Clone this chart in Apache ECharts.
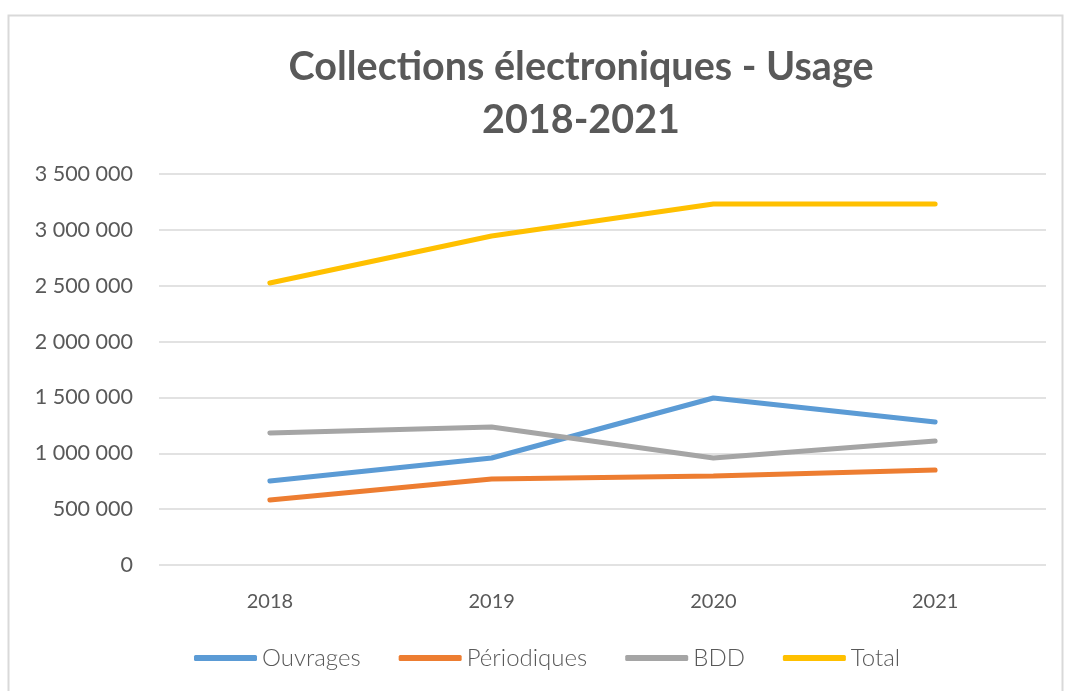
<!DOCTYPE html>
<html><head><meta charset="utf-8">
<script src="https://cdn.jsdelivr.net/npm/echarts@6/dist/echarts.min.js"></script>
<style>html,body{margin:0;padding:0;background:#fff}#c{width:1065px;height:691px}</style>
</head><body><div id="c"></div>
<script>
const categories = ['2018', '2019', '2020', '2021'];
const ouvrages = [752000, 958000, 1495000, 1280000];
const periodiques = [582000, 770000, 797000, 850000];
const bdd = [1182000, 1235000, 958000, 1110000];
const total = [2524000, 2945000, 3231000, 3231000];
const seriesNames = ['Ouvrages', 'Périodiques', 'BDD', 'Total'];
const colors = ['#5B9BD5', '#ED7D31', '#A5A5A5', '#FFC000'];

const fmt = v => String(v).replace(/\B(?=(\d{3})+(?!\d))/g, ' ');
const chart = echarts.init(document.getElementById('c'));
const data = [ouvrages, periodiques, bdd, total];
chart.setOption({
  animation: false,
  textStyle: { fontFamily: 'Lato' },
  graphic: [{ type: 'rect', shape: { x: 8.5, y: 15.5, width: 1054, height: 690 }, style: { fill: 'none', stroke: '#D9D9D9', lineWidth: 2 } }],
  title: {
    text: 'Collections électroniques - Usage\n2018-2021',
    left: 576, top: 36, textAlign: 'center',
    textStyle: { fontFamily: 'Lato', fontWeight: 'bold', fontSize: 39.5, color: '#595959', lineHeight: 53 }
  },
  legend: {
    bottom: 21, left: 194, padding: 0,
    itemWidth: 63, itemHeight: 6, itemGap: 38,
    icon: 'roundRect',
    textStyle: { fontSize: 24, color: '#595959', fontFamily: 'Lato', fontWeight: 300 },
    data: seriesNames
  },
  grid: { left: 159, right: 19, top: 174, bottom: 126 },
  xAxis: {
    type: 'category', data: categories, boundaryGap: true,
    axisLine: { show: false }, axisTick: { show: false },
    axisLabel: { fontSize: 20, color: '#595959', margin: 27 }
  },
  yAxis: {
    type: 'value', min: 0, max: 3500000, interval: 500000,
    axisLabel: { formatter: fmt, fontSize: 21.5, color: '#595959', margin: 26 },
    splitLine: { lineStyle: { color: '#D9D9D9', width: 1.5 } },
    axisLine: { show: false }, axisTick: { show: false }
  },
  series: seriesNames.map((n, i) => ({
    name: n, type: 'line', data: data[i], symbol: 'none',
    lineStyle: { width: 5, color: colors[i], cap: 'round' },
    itemStyle: { color: colors[i] }
  }))
});
</script></body></html>
